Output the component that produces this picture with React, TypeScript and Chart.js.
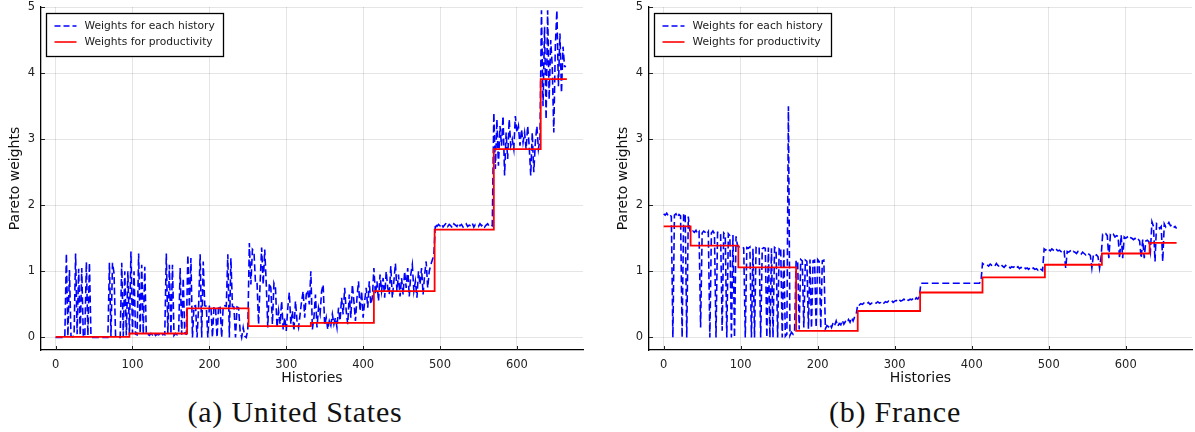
import React, { useEffect, useRef } from "react";
import { Chart, registerables } from "chart.js";

Chart.register(...registerables);

// ---------- DATA ----------
const historyStep = 2; // one value every 2 histories
const xTickValues = [0, 100, 200, 300, 400, 500, 600];
const yTickValues = [0, 1, 2, 3, 4, 5];
const legendLabels = ["Weights for each history", "Weights for productivity"];
const captions = ["(a) United States", "(b) France"];
const xAxisTitle = "Histories";
const yAxisTitle = "Pareto weights";

// United States: weights for each history (histories 0, 2, 4, ... 664)
const usHistoryWeights = [
  0, 0, 0, 0, 0, 0, 0, 1.27, 0.02, 1.02,
  0.02, 0.01, 0.02, 1.27, 0.05, 1.04, 0.03, 1.05, 0.02, 0.01,
  1.14, 0.03, 1.13, 0.02, 0, 0, 0, 0, 0, 0,
  0, 0, 0, 0, 0, 1.13, 0.02, 1.13, 0.97, 0.02,
  0, 0, 0, 1.13, 0.02, 1.0, 0.03, 1.0, 0.04, 1.3,
  0.06, 1.0, 0.05, 0.04, 1.27, 0.06, 1.1, 0.05, 1.07, 0.04,
  0.05, 0.03, 0.06, 0.04, 0.07, 0.03, 0.05, 0.04, 0.06, 0.03,
  0.05, 0.04, 1.27, 0.06, 1.1, 0.05, 1.1, 0.03, 0.06, 0.04,
  0.05, 1.05, 0.04, 0.9, 0.06, 0.05, 1.25, 0.46, 1.2, 0.0,
  0.47, 0.48, 0.0, 0.46, 1.26, 0.0, 1.15, 0.48, 0.47, 0.0,
  0.47, 0.48, 0.0, 0.47, 0.46, 0.0, 0.48, 0.47, 0.0, 0.47,
  0.48, 0.47, 1.26, 0.0, 1.2, 0.47, 0.46, 0.0, 0.46, 0.45,
  0.1, 0.0, 0.15, 0.02, 0.0, 0.12, 1.43, 0.8, 1.33, 1.3,
  0.82, 0.83, 0.2, 0.82, 1.36, 0.8, 1.33, 0.81, 0.15, 0.82,
  0.75, 0.2, 0.82, 0.75, 0.15, 0.4, 0.2, 0.55, 0.12, 0.3,
  0.1, 0.45, 0.68, 0.2, 0.4, 0.1, 0.55, 0.25, 0.15, 0.35,
  0.55, 0.7, 0.3, 0.65, 0.72, 0.5, 1.0, 0.12, 0.3, 0.65,
  0.15, 0.45, 0.35, 0.7, 0.8, 0.18, 0.3, 0.12, 0.25, 0.18,
  0.35, 0.2, 0.3, 0.15, 0.45, 0.25, 0.6, 0.35, 0.75, 0.4,
  0.2, 0.65, 0.3, 0.8, 0.55, 0.25, 0.6, 0.85, 0.4, 0.7,
  0.3, 0.55, 0.75, 0.45, 0.85, 0.5, 0.6, 1.05, 0.65, 0.85,
  0.55, 0.95, 0.7, 0.9, 0.6, 1.0, 0.75, 0.65, 1.08, 0.6,
  0.85, 1.12, 0.7, 0.95, 0.62, 0.9, 0.65, 1.0, 0.75, 1.05,
  0.62, 0.95, 1.1, 0.7, 0.85, 0.6, 1.0, 0.8, 1.05, 0.65,
  0.95, 1.15, 0.75, 1.0, 1.1, 1.17, 1.25, 1.72, 1.68, 1.71,
  1.69, 1.72, 1.67, 1.7, 1.73, 1.68, 1.71, 1.69, 1.66, 1.72,
  1.7, 1.68, 1.73, 1.69, 1.71, 1.67, 1.7, 1.72, 1.68, 1.7,
  1.69, 1.73, 1.67, 1.71, 1.7, 1.68, 1.72, 1.69, 1.71, 1.67,
  1.7, 1.72, 1.68, 1.7, 1.69, 3.4, 2.55, 3.3, 2.6, 3.2,
  2.9, 3.35, 2.45, 3.1, 2.7, 3.3, 2.9, 3.0, 2.85, 3.35,
  3.1, 3.2, 2.9, 3.15, 2.95, 3.1, 2.85, 3.2, 2.9, 2.45,
  3.1, 2.5, 2.95, 3.2, 2.85, 3.0, 4.95, 3.5, 4.7, 3.3,
  4.95, 3.6, 4.5, 4.1, 3.1, 4.4, 4.95, 3.8, 4.6, 3.7,
  4.4, 4.1, 4.1,
];

// United States: weights for productivity (step starts and levels)
const usProductivityX = [0, 96, 171, 251, 332, 414, 493, 570, 631, 665];
const usProductivityY = [0.01, 0.06, 0.44, 0.17, 0.22, 0.7, 1.63, 2.85, 3.91, 3.91];

// France: weights for each history (histories 0, 2, 4, ... 666)
const frHistoryWeights = [
  1.87, 1.85, 1.88, 1.84, 1.86, 1.83, 0.0, 1.85, 1.87, 1.82,
  1.86, 1.84, 0.0, 1.88, 1.85, 0.0, 1.83, 1.62, 1.58, 1.61,
  1.59, 1.62, 1.57, 1.6, 0.15, 1.58, 1.61, 1.59, 1.56, 1.6,
  0.0, 1.58, 1.61, 1.57, 0.0, 1.59, 1.6, 1.56, 0.1, 1.58,
  1.55, 0.0, 1.57, 1.54, 0.0, 1.55, 0.0, 1.53, 1.38, 1.37,
  1.36, 1.37, 1.35, 0.0, 1.36, 1.35, 1.37, 0.0, 1.34, 0.0,
  1.36, 1.35, 1.37, 0.0, 1.34, 1.36, 1.35, 0.0, 1.36, 0.0,
  1.35, 0.0, 1.36, 1.34, 0.0, 1.35, 1.36, 0.0, 1.35, 0.02,
  0.05, 3.5, 0.03, 0.08, 0.05, 0.1, 1.17, 1.15, 0.12, 1.18,
  1.16, 0.15, 1.17, 1.15, 0.13, 1.18, 0.14, 1.16, 1.17, 0.15,
  1.18, 1.15, 0.14, 1.16, 1.17, 0.13, 0.18, 0.16, 0.2, 0.15,
  0.22, 0.18, 0.25, 0.17, 0.21, 0.19, 0.26, 0.2, 0.24, 0.22,
  0.27, 0.23, 0.3, 0.25, 0.31, 0.35, 0.5, 0.49, 0.51, 0.5,
  0.52, 0.5, 0.51, 0.53, 0.5, 0.52, 0.51, 0.53, 0.52, 0.54,
  0.52, 0.53, 0.55, 0.52, 0.54, 0.53, 0.55, 0.54, 0.56, 0.53,
  0.55, 0.56, 0.54, 0.57, 0.55, 0.56, 0.58, 0.55, 0.57, 0.56,
  0.58, 0.57, 0.59, 0.56, 0.6, 0.58, 0.62, 0.82, 0.82, 0.82,
  0.82, 0.82, 0.82, 0.82, 0.82, 0.82, 0.82, 0.82, 0.82, 0.82,
  0.82, 0.82, 0.82, 0.82, 0.82, 0.82, 0.82, 0.82, 0.82, 0.82,
  0.82, 0.82, 0.82, 0.82, 0.82, 0.82, 0.82, 0.82, 0.82, 0.82,
  0.82, 0.82, 0.82, 0.82, 0.82, 0.82, 0.85, 1.12, 1.1, 1.11,
  1.1, 1.08, 1.11, 1.09, 1.1, 1.08, 1.12, 1.09, 1.07, 1.1,
  1.08, 1.06, 1.09, 1.07, 1.08, 1.05, 1.07, 1.06, 1.08, 1.05,
  1.07, 1.04, 1.06, 1.05, 1.07, 1.04, 1.05, 1.03, 1.06, 1.04,
  1.05, 1.03, 1.04, 1.02, 1.05, 1.03, 1.01, 1.34, 1.32, 1.35,
  1.33, 1.31, 1.34, 1.32, 1.3, 1.33, 1.31, 1.32, 1.3, 1.33,
  1.31, 1.05, 1.3, 1.29, 1.31, 1.28, 1.3, 1.29, 1.27, 1.3,
  1.28, 1.26, 1.29, 1.27, 1.25, 1.28, 1.26, 1.24, 1.05, 1.25,
  1.23, 1.25, 1.22, 1.05, 1.22, 1.56, 1.55, 1.57, 1.54, 1.2,
  1.55, 1.53, 1.56, 1.52, 1.54, 1.53, 1.2, 1.55, 1.2, 1.52,
  1.5, 1.52, 1.49, 1.51, 1.5, 1.48, 1.5, 1.47, 1.49, 1.46,
  1.2, 1.48, 1.2, 1.46, 1.47, 1.45, 1.3, 1.75, 1.68, 1.15,
  1.72, 1.7, 1.65, 1.68, 1.15, 1.72, 1.67, 1.7, 1.74, 1.69,
  1.7, 1.66, 1.68, 1.65,
];

// France: weights for productivity (step starts and levels)
const frProductivityX = [0, 35, 97, 172, 252, 333, 414, 495, 569, 631, 666];
const frProductivityY = [1.68, 1.39, 1.06, 0.1, 0.4, 0.68, 0.91, 1.1, 1.27, 1.43, 1.43];

// ---------- STYLE ----------
const SANS = "'DejaVu Sans', sans-serif";
const BLUE = "#0000ff";
const RED = "#ff0000";
const CANVAS_H = 392;
const PLOT_TOP = 7;
const PLOT_BOTTOM = 350;

const decorPlugin = {
  id: "decor",
  afterDraw(chart: any) {
    const { ctx, chartArea: a, scales } = chart;
    ctx.save();
    // inward tick marks
    ctx.strokeStyle = "#222";
    ctx.lineWidth = 1;
    xTickValues.forEach((v) => {
      const x = Math.round(scales.x.getPixelForValue(v)) + 0.5;
      ctx.beginPath();
      ctx.moveTo(x, a.bottom);
      ctx.lineTo(x, a.bottom - 4);
      ctx.stroke();
    });
    yTickValues.forEach((v) => {
      const y = Math.round(scales.y.getPixelForValue(v)) + 0.5;
      ctx.beginPath();
      ctx.moveTo(a.left, y);
      ctx.lineTo(a.left + 4, y);
      ctx.stroke();
    });
    // legend box
    const bx = Math.round(a.left + 5) + 0.5;
    const by = Math.round(a.top + 6) + 0.5;
    const bw = 177;
    const bh = 43;
    ctx.fillStyle = "#fff";
    ctx.fillRect(bx, by, bw, bh);
    ctx.strokeStyle = "#000";
    ctx.lineWidth = 1.3;
    ctx.strokeRect(bx, by, bw, bh);
    const rows = [by + 12.5, by + 28.5];
    const colors = [BLUE, RED];
    const dashes = [[6, 3], []];
    rows.forEach((ry, i) => {
      ctx.strokeStyle = colors[i];
      ctx.lineWidth = 1.6;
      ctx.setLineDash(dashes[i]);
      ctx.beginPath();
      ctx.moveTo(bx + 8, ry);
      ctx.lineTo(bx + 30, ry);
      ctx.stroke();
      ctx.setLineDash([]);
      ctx.fillStyle = "#1a1a1a";
      ctx.font = `10.7px ${SANS}`;
      ctx.textBaseline = "middle";
      ctx.textAlign = "left";
      ctx.fillText(legendLabels[i], bx + 38, ry + 0.5);
    });
    ctx.restore();
  },
};

function makeConfig(hist: number[], px: number[], py: number[], rightPad: number): any {
  return {
    type: "line",
    data: {
      datasets: [
        {
          label: legendLabels[0],
          data: hist.map((y, i) => ({ x: i * historyStep, y })),
          borderColor: BLUE,
          borderWidth: 1.6,
          borderDash: [7, 3.5],
          pointRadius: 0,
          tension: 0,
          fill: false,
          order: 2,
        },
        {
          label: legendLabels[1],
          data: px.map((x, i) => ({ x, y: py[i] })),
          borderColor: RED,
          borderWidth: 1.8,
          pointRadius: 0,
          stepped: "before",
          fill: false,
          order: 1,
        },
      ],
    },
    options: {
      responsive: false,
      animation: false,
      events: [],
      layout: { padding: { top: 0, right: rightPad, left: 0, bottom: 0 } },
      plugins: { legend: { display: false }, tooltip: { enabled: false } },
      scales: {
        x: {
          type: "linear",
          min: -19,
          max: 686,
          afterBuildTicks: (s: any) => {
            s.ticks = xTickValues.map((v) => ({ value: v }));
          },
          afterFit: (s: any) => {
            s.height = CANVAS_H - PLOT_BOTTOM;
            s.paddingLeft = 0;
            s.paddingRight = 0;
          },
          grid: { color: "rgba(0,0,0,0.1)", lineWidth: 1, drawTicks: false },
          border: { display: true, color: "#000", width: 1.3 },
          ticks: { padding: 8, color: "#222", font: { family: SANS, size: 11.5 }, maxRotation: 0, autoSkip: false },
          title: {
            display: true,
            text: xAxisTitle,
            color: "#111",
            font: { family: SANS, size: 14 },
            padding: { top: 0, bottom: 5 },
          },
        },
        y: {
          type: "linear",
          min: -0.19,
          max: 5,
          afterBuildTicks: (s: any) => {
            s.ticks = yTickValues.map((v) => ({ value: v }));
          },
          afterFit: (s: any) => {
            s.width = 41;
            s.paddingTop = PLOT_TOP;
            s.paddingBottom = 0;
          },
          grid: { color: "rgba(0,0,0,0.1)", lineWidth: 1, drawTicks: false },
          border: { display: true, color: "#000", width: 1.3 },
          ticks: { padding: 6, color: "#222", font: { family: SANS, size: 11.5 }, autoSkip: false },
          title: {
            display: true,
            text: yAxisTitle,
            color: "#111",
            font: { family: SANS, size: 14 },
            padding: { top: 7, bottom: 0 },
          },
        },
      },
    },
    plugins: [decorPlugin],
  };
}

function Panel(props: { hist: number[]; px: number[]; py: number[]; left: number; width: number; rightPad: number }) {
  const ref = useRef<HTMLCanvasElement>(null);
  useEffect(() => {
    const chart = new Chart(ref.current as HTMLCanvasElement, makeConfig(props.hist, props.px, props.py, props.rightPad));
    return () => chart.destroy();
  }, []);
  return (
    <canvas
      ref={ref}
      width={props.width}
      height={CANVAS_H}
      style={{ position: "absolute", left: props.left, top: 0, width: props.width, height: CANVAS_H }}
    />
  );
}

const captionStyle: React.CSSProperties = {
  position: "absolute",
  top: 397,
  width: 590,
  textAlign: "center",
  fontFamily: "'Liberation Serif', serif",
  fontSize: 30,
  lineHeight: "30px",
  letterSpacing: "0.8px",
  color: "#111",
  whiteSpace: "nowrap",
};

export default function App() {
  return (
    <div style={{ position: "fixed", left: 0, top: 0, width: 1195, height: 432, background: "#fff", overflow: "hidden" }}>
      <Panel hist={usHistoryWeights} px={usProductivityX} py={usProductivityY} left={0} width={597} rightPad={14} />
      <Panel hist={frHistoryWeights} px={frProductivityX} py={frProductivityY} left={608} width={587} rightPad={3} />
      <div style={{ ...captionStyle, left: 0 }}>{captions[0]}</div>
      <div style={{ ...captionStyle, left: 600 }}>{captions[1]}</div>
    </div>
  );
}
